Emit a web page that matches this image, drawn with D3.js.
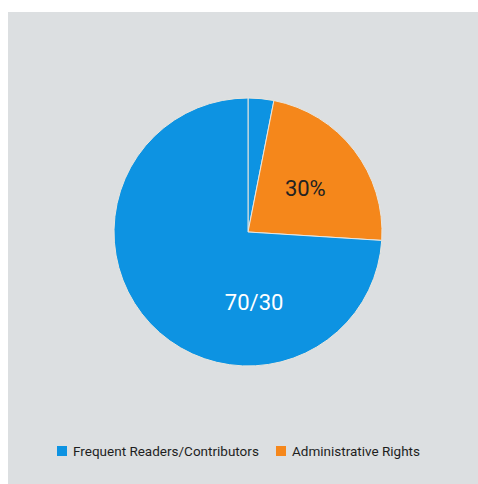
<!DOCTYPE html>
<html><head><meta charset="utf-8">
<script src="https://cdn.jsdelivr.net/npm/d3@7"></script>
<style>html,body{margin:0;padding:0;background:#fff;overflow:hidden;}svg{display:block;}</style>
</head><body>
<script>
const sliceNames = ["Frequent Readers/Contributors", "Administrative Rights", "Frequent Readers/Contributors"];
const sliceValues = [3.1, 22.9, 74];
const sliceLabels = ["", "30%", "70/30"];
const legendNames = ["Frequent Readers/Contributors", "Administrative Rights"];
const colors = {"Frequent Readers/Contributors": "#0d93e2", "Administrative Rights": "#f5871b"};

const W = 478, H = 484;
const svg = d3.select("body").append("svg").attr("width", W).attr("height", H);
svg.append("rect").attr("x", 8).attr("y", 12).attr("width", W - 8).attr("height", H - 12).attr("fill", "#dcdfe1");

const cx = 248, cy = 232, R = 134;
const g = svg.append("g").attr("transform", `translate(${cx},${cy})`);
const data = sliceValues.map((v, i) => ({name: sliceNames[i], value: v, label: sliceLabels[i]}));
const pie = d3.pie().value(d => d.value).sort(null);
const arcs = pie(data);
const arc = d3.arc().innerRadius(0).outerRadius(R);
g.selectAll("path").data(arcs).join("path")
  .attr("d", arc).attr("fill", d => colors[d.data.name])
  .attr("stroke", "#e8e6df").attr("stroke-width", 1);

const labelArc = d3.arc().innerRadius(0).outerRadius(R * 1.08);
g.selectAll("text.lbl").data(arcs.filter(d => d.data.label)).join("text")
  .attr("class", "lbl")
  .attr("transform", d => {
    if (d.index === 2) { const a = 175 * Math.PI / 180, r = 70; return `translate(${r*Math.sin(a)},${-r*Math.cos(a)})`; }
    const c = labelArc.centroid(d); return `translate(${c[0]},${c[1]})`;
  })
  .attr("text-anchor", "middle").attr("dy", "0.36em")
  .attr("font-family", "Roboto, sans-serif").attr("font-size", 22)
  .attr("fill", d => d.index === 2 ? "#ffffff" : "#222222")
  .text(d => d.data.label);

const leg = svg.append("g").attr("font-family", "Roboto, sans-serif").attr("font-size", 13.5);
const legX = [57, 276];
legendNames.forEach((n, i) => {
  leg.append("rect").attr("x", legX[i]).attr("y", 446).attr("width", 10).attr("height", 10).attr("fill", colors[n]);
  leg.append("text").attr("x", legX[i] + 16).attr("y", 455.5).attr("fill", "#1e1e1e").text(n);
});
</script>
</body></html>
